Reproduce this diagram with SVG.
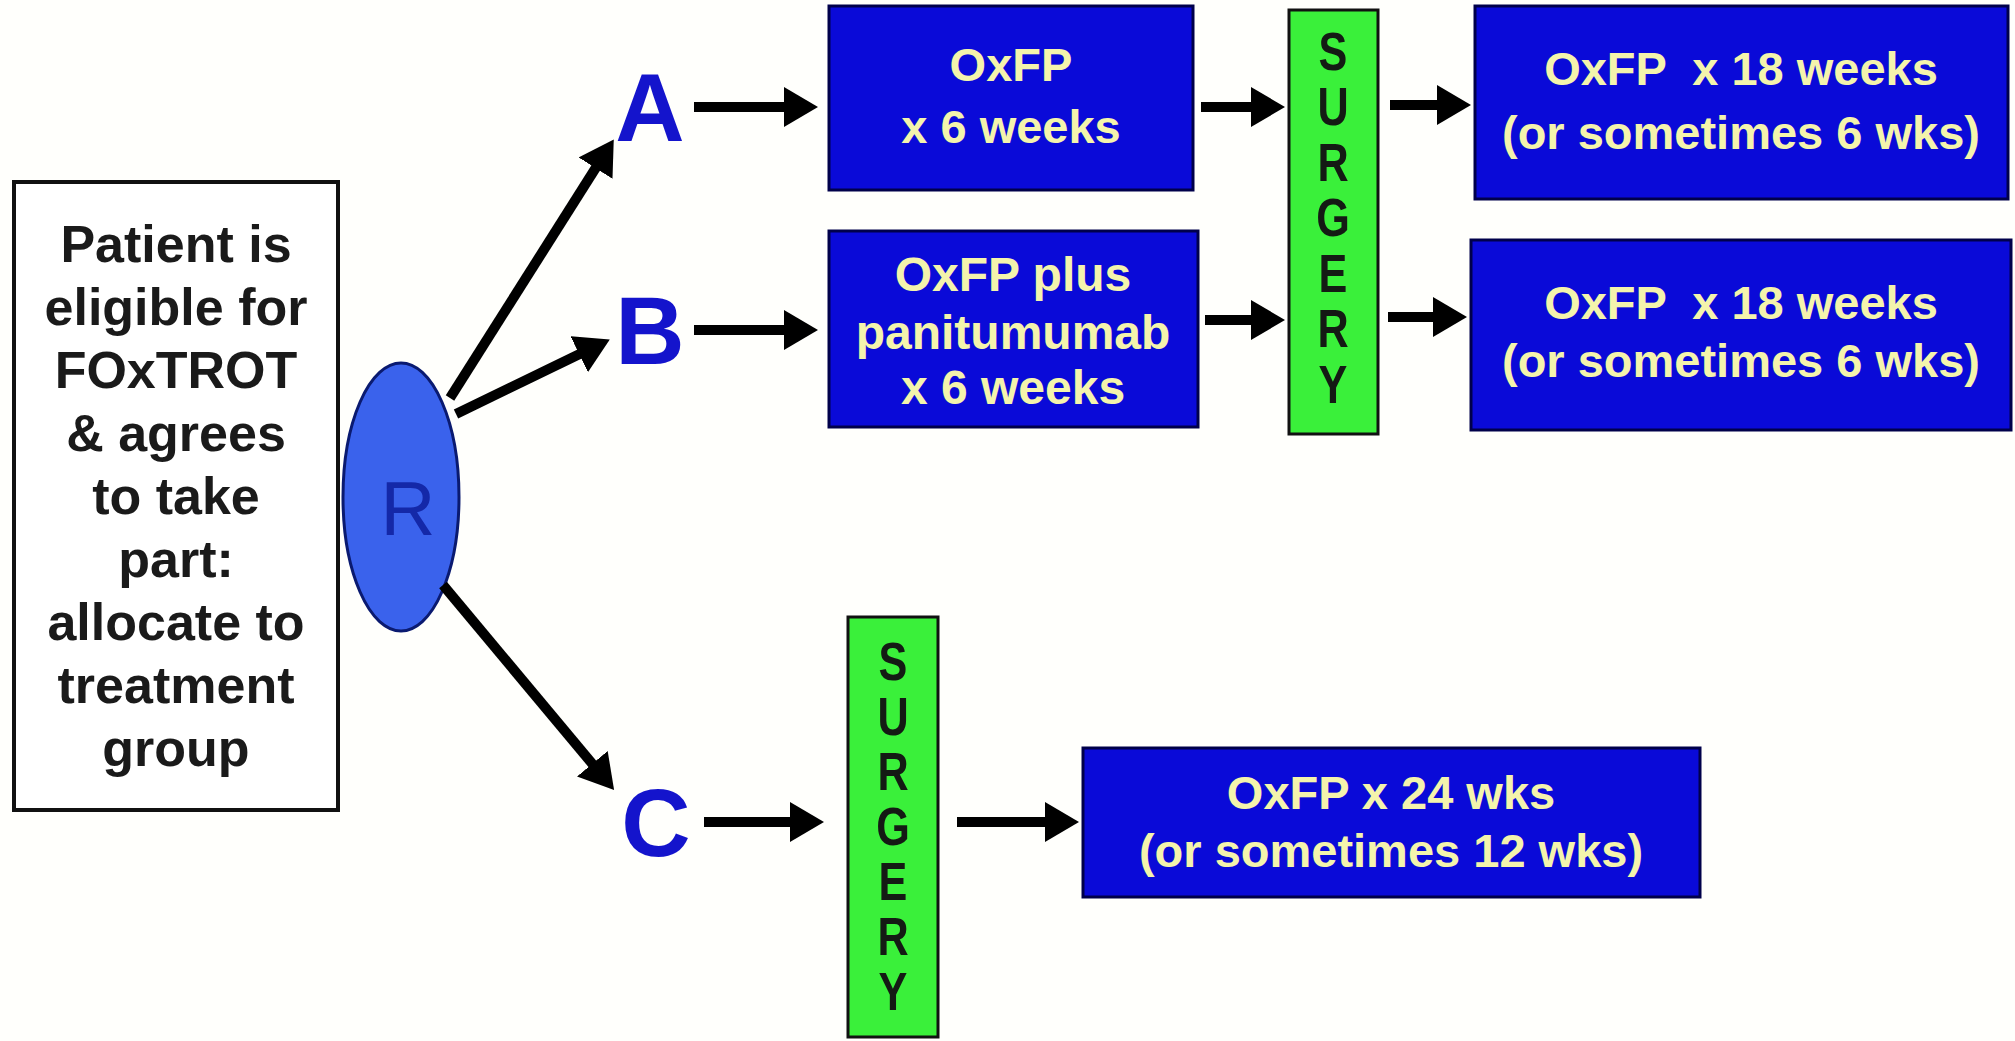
<svg xmlns="http://www.w3.org/2000/svg" width="2015" height="1041" viewBox="0 0 2015 1041">
<defs>
<style>
.bx{fill:#0a0ad8;stroke:#00004a;stroke-width:3}
.sg{fill:#3af03a;stroke:#111;stroke-width:3}
.bt{font-family:"Liberation Sans",Arial,sans-serif;font-weight:bold;fill:#f4f4ac;text-anchor:middle;white-space:pre}
.st{font-family:"Liberation Sans",Arial,sans-serif;font-weight:bold;fill:#141a14;font-size:54px;text-anchor:middle}
.lb{font-family:"Liberation Sans",Arial,sans-serif;font-weight:bold;fill:#1414cc;font-size:96px;text-anchor:middle}
.pt{font-family:"Liberation Sans",Arial,sans-serif;font-weight:bold;fill:#1a1a1a;font-size:52px;text-anchor:middle}
.ar{stroke:#000;stroke-width:10;fill:none;marker-end:url(#ah)}
</style>
<marker id="ah" markerWidth="4" markerHeight="4" refX="1.2" refY="2" orient="auto" markerUnits="strokeWidth" viewBox="0 0 4 4">
<path d="M0,0 L3.4,2 L0,4 z" fill="#000"/>
</marker>
</defs>
<rect width="2015" height="1041" fill="#fffffc"/>
<g id="patient">
<rect x="14" y="182" width="324" height="628" fill="#fff" stroke="#111" stroke-width="4"/>
<text class="pt" x="176"><tspan x="176" y="262">Patient is</tspan><tspan x="176" y="325">eligible for</tspan><tspan x="176" y="388">FOxTROT</tspan><tspan x="176" y="451">&amp; agrees</tspan><tspan x="176" y="514">to take</tspan><tspan x="176" y="577">part:</tspan><tspan x="176" y="640">allocate to</tspan><tspan x="176" y="703">treatment</tspan><tspan x="176" y="766">group</tspan></text>
</g>
<g id="R">
<ellipse cx="401" cy="497" rx="58" ry="134" fill="#3a62ec" stroke="#0a1a70" stroke-width="3"/>
<text x="408" y="535" font-family="Liberation Sans, Arial, sans-serif" font-size="76" fill="#1428a8" text-anchor="middle">R</text>
</g>
<g id="labelA"><text class="lb" x="650" y="141">A</text></g>
<g id="labelB"><text class="lb" x="650" y="364">B</text></g>
<g id="labelC"><text class="lb" x="656" y="856">C</text></g>
<g id="A1">
<rect class="bx" x="829" y="6" width="364" height="184"/>
<text class="bt" font-size="47"><tspan x="1011" y="81">OxFP</tspan><tspan x="1011" y="143">x 6 weeks</tspan></text>
</g>
<g id="B1">
<rect class="bx" x="829" y="231" width="369" height="196"/>
<text class="bt" font-size="48"><tspan x="1013" y="291">OxFP plus</tspan><tspan x="1013" y="349">panitumumab</tspan><tspan x="1013" y="404">x 6 weeks</tspan></text>
</g>
<g id="surgeryAB">
<rect class="sg" x="1289" y="10" width="89" height="424"/>
<g transform="translate(1333,0) scale(0.8,1)"><text class="st"><tspan x="0" y="70">S</tspan><tspan x="0" y="125">U</tspan><tspan x="0" y="181">R</tspan><tspan x="0" y="236">G</tspan><tspan x="0" y="292">E</tspan><tspan x="0" y="347">R</tspan><tspan x="0" y="403">Y</tspan></text></g>
</g>
<g id="A2">
<rect class="bx" x="1475" y="6" width="533" height="193"/>
<text class="bt" font-size="47"><tspan x="1741" y="85">OxFP  x 18 weeks</tspan><tspan x="1741" y="149">(or sometimes 6 wks)</tspan></text>
</g>
<g id="B2">
<rect class="bx" x="1471" y="240" width="540" height="190"/>
<text class="bt" font-size="47"><tspan x="1741" y="319">OxFP  x 18 weeks</tspan><tspan x="1741" y="377">(or sometimes 6 wks)</tspan></text>
</g>
<g id="surgeryC">
<rect class="sg" x="848" y="617" width="90" height="420"/>
<g transform="translate(893,0) scale(0.8,1)"><text class="st"><tspan x="0" y="680">S</tspan><tspan x="0" y="735">U</tspan><tspan x="0" y="790">R</tspan><tspan x="0" y="845">G</tspan><tspan x="0" y="900">E</tspan><tspan x="0" y="955">R</tspan><tspan x="0" y="1010">Y</tspan></text></g>
</g>
<g id="C1">
<rect class="bx" x="1083" y="748" width="617" height="149"/>
<text class="bt" font-size="47"><tspan x="1391" y="809">OxFP x 24 wks</tspan><tspan x="1391" y="867">(or sometimes 12 wks)</tspan></text>
</g>
<g id="connectors">
<line class="ar" x1="450" y1="398" x2="602" y2="158"/>
<line class="ar" x1="456" y1="414" x2="590" y2="349"/>
<line class="ar" x1="443" y1="585" x2="600" y2="773"/>
<line class="ar" x1="694" y1="107" x2="796" y2="107"/>
<line class="ar" x1="1201" y1="107" x2="1263" y2="107"/>
<line class="ar" x1="1390" y1="105" x2="1449" y2="105"/>
<line class="ar" x1="694" y1="330" x2="796" y2="330"/>
<line class="ar" x1="1205" y1="320" x2="1263" y2="320"/>
<line class="ar" x1="1388" y1="317" x2="1445" y2="317"/>
<line class="ar" x1="704" y1="822" x2="802" y2="822"/>
<line class="ar" x1="957" y1="822" x2="1057" y2="822"/>
</g>
</svg>
